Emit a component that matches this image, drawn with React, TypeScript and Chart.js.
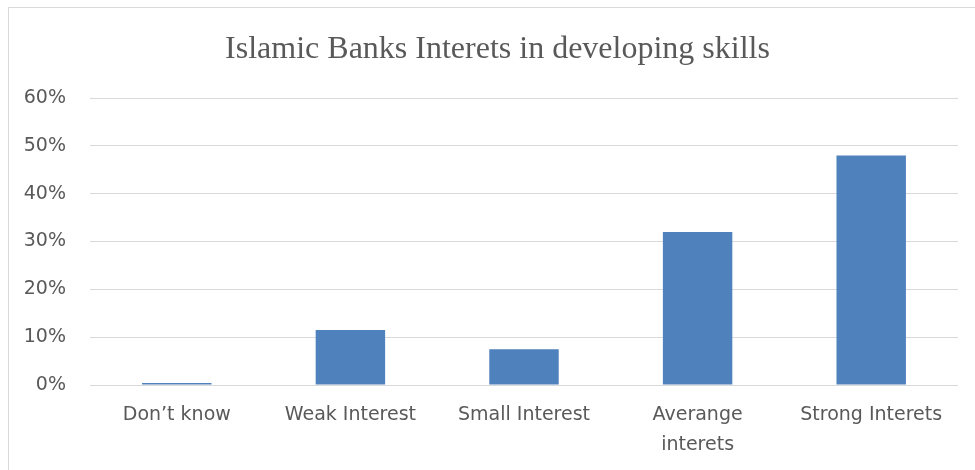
import React, { useEffect, useRef } from "react";
import { Chart, registerables } from "chart.js";

Chart.register(...registerables);

const TITLE = "Islamic Banks Interets in developing skills";
const categories: (string | string[])[] = [
  "Don’t know",
  "Weak Interest",
  "Small Interest",
  ["Averange", "interets"],
  "Strong Interets",
];
const values = [0.4, 11.5, 7.5, 32, 48];
const yTicks = [0, 10, 20, 30, 40, 50, 60];

const framePlugin = {
  id: "frame",
  beforeDraw(chart: any) {
    const ctx = chart.ctx;
    ctx.save();
    ctx.fillStyle = "#ffffff";
    ctx.fillRect(0, 0, chart.width, chart.height);
    ctx.strokeStyle = "#d9d9d9";
    ctx.lineWidth = 1;
    ctx.strokeRect(8.5, 7.5, chart.width + 10, chart.height + 10);
    ctx.restore();
  },
};

export default function App() {
  const ref = useRef<HTMLCanvasElement>(null);
  useEffect(() => {
    if (!ref.current) return;
    const chart = new Chart(ref.current, {
      type: "bar",
      data: {
        labels: categories,
        datasets: [
          {
            data: values,
            backgroundColor: "#4F81BD",
            borderWidth: 0,
            barPercentage: 0.4,
            categoryPercentage: 1,
          },
        ],
      },
      options: {
        responsive: false,
        animation: false,
        layout: { padding: { left: 20, right: 0, top: 0, bottom: 0 } },
        plugins: {
          legend: { display: false },
          tooltip: { enabled: false },
          title: {
            display: true,
            text: TITLE,
            color: "#595959",
            font: { family: "'Liberation Serif', serif", size: 32, weight: "normal", lineHeight: 1.2 },
            padding: { top: 30, bottom: 29.6 },
          },
        },
        scales: {
          x: {
            grid: { display: false, drawTicks: false },
            border: { display: false },
            ticks: {
              color: "#595959",
              font: { family: "'DejaVu Sans', sans-serif", size: 19, lineHeight: "30px" },
              padding: 15,
              maxRotation: 0,
              autoSkip: false,
            },
            afterFit(scale: any) {
              scale.height = 85;
            },
          },
          y: {
            min: 0,
            max: 60,
            afterBuildTicks(scale: any) {
              scale.ticks = yTicks.map((v) => ({ value: v }));
            },
            grid: { color: "#d9d9d9", lineWidth: 1, drawTicks: false },
            border: { display: false },
            ticks: {
              color: "#595959",
              font: { family: "'DejaVu Sans', sans-serif", size: 19 },
              padding: 24,
              callback: (v: any) => v + "%",
            },
            afterFit(scale: any) {
              scale.width = 70;
            },
          },
          yRight: {
            position: "right",
            display: true,
            min: 0,
            max: 60,
            grid: { display: false, drawTicks: false },
            border: { display: false },
            ticks: { display: false },
            afterFit(scale: any) {
              scale.width = 17;
            },
          },
        },
      },
      plugins: [framePlugin],
    });
    return () => chart.destroy();
  }, []);
  return (
    <div style={{ position: "fixed", left: 0, top: 0, width: 975, height: 470 }}>
      <canvas ref={ref} width={975} height={470} style={{ display: "block" }} />
    </div>
  );
}
